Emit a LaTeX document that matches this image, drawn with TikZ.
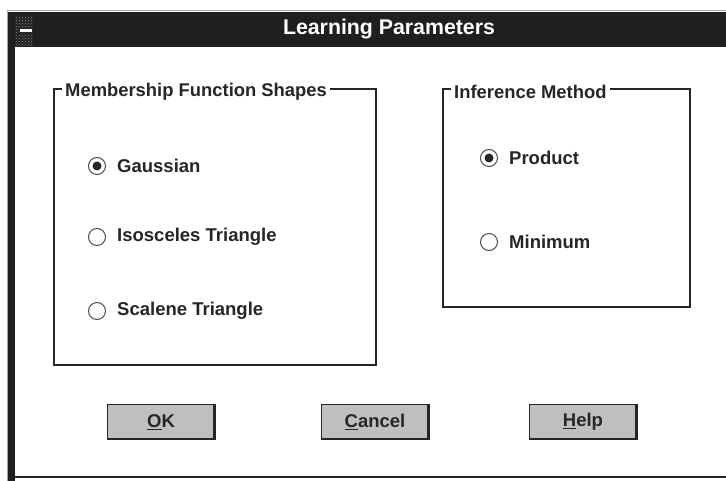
\documentclass[tikz,border=0pt]{standalone}
\usepackage{fontspec}
\setmainfont{Liberation Sans}
\usetikzlibrary{positioning,patterns}

\tikzset{
  groupbox/.style={draw=black!85, line width=1.2pt},
  grouptitle/.style={fill=white, inner sep=3pt, anchor=west, text=black!85, font=\fontsize{18.4}{20}\selectfont\bfseries},
  radio/.style={draw=black!70, circle, line width=1pt, minimum size=17pt, inner sep=0pt},
  radiolabel/.style={anchor=west, inner sep=0pt, text=black!85, font=\fontsize{18.5}{20}\selectfont\bfseries},
  button/.style={draw=black!85, fill=gray!50, line width=1pt, minimum width=108pt, minimum height=35pt, inner sep=0pt, text=black!85, font=\fontsize{18.5}{20}\selectfont\bfseries},
}

\begin{document}
\begin{tikzpicture}[x=1pt,y=-1pt]
\useasboundingbox[fill=white] (0,0) rectangle (726,481);

% Window frame and title bar
\fill[black!88] (7,12) rectangle (726,47);
\fill[black!88] (7,12) rectangle (15,481);
\draw[gray!70, line width=1pt] (7,11) -- (726,11);
\draw[gray!70, line width=1pt] (7.5,11) -- (7.5,481);
\draw[black!85, line width=2pt] (15,477) -- (726,477);
\node[text=white, font=\fontsize{21.3}{23}\selectfont\bfseries] (title) at (389,29) {Learning Parameters};

% System menu box
\node[fill=gray!35, pattern=crosshatch dots, pattern color=black!45, minimum width=18pt, minimum height=30pt, inner sep=0pt, anchor=north west] (sysmenu) at (15,16) {};
\node[draw=black!85, fill=white, line width=1pt, minimum width=13pt, minimum height=4pt, inner sep=0pt] (sysbar) at (26,31) {};

% Group boxes
\draw[groupbox] (54,89) rectangle (376,365);
\node[grouptitle] (shapes) at (62,92) {Membership Function Shapes};
\draw[groupbox] (443,89) rectangle (690,307);
\node[grouptitle] (method) at (451,92) {Inference Method};

% Radio buttons
\foreach \i/\x/\y/\t in {1/97/166/Gaussian, 2/97/237/Isosceles Triangle, 3/97/311/Scalene Triangle, 4/489/158/Product, 5/489/242/Minimum} {
    \node[radio] (r\i) at (\x,\y) {};
    \node[radiolabel, right=11pt of r\i] (t\i) {\t};
}
\node[fill=black!85, circle, minimum size=9pt, inner sep=0pt] (dot1) at (r1) {};
\node[fill=black!85, circle, minimum size=9pt, inner sep=0pt] (dot4) at (r4) {};

% Buttons
\foreach \n/\x/\t in {ok/161/\underline{O}K, cancel/375/\underline{C}ancel, help/583/\underline{H}elp} {
    \node[button] (\n) at (\x,422) {\t};
    \draw[black!85, line width=2.5pt] ([xshift=-1.2pt]\n.north east) -- ([xshift=-1.2pt,yshift=1.2pt]\n.south east) -- ([yshift=1.2pt]\n.south west);
}

\end{tikzpicture}
\end{document}
